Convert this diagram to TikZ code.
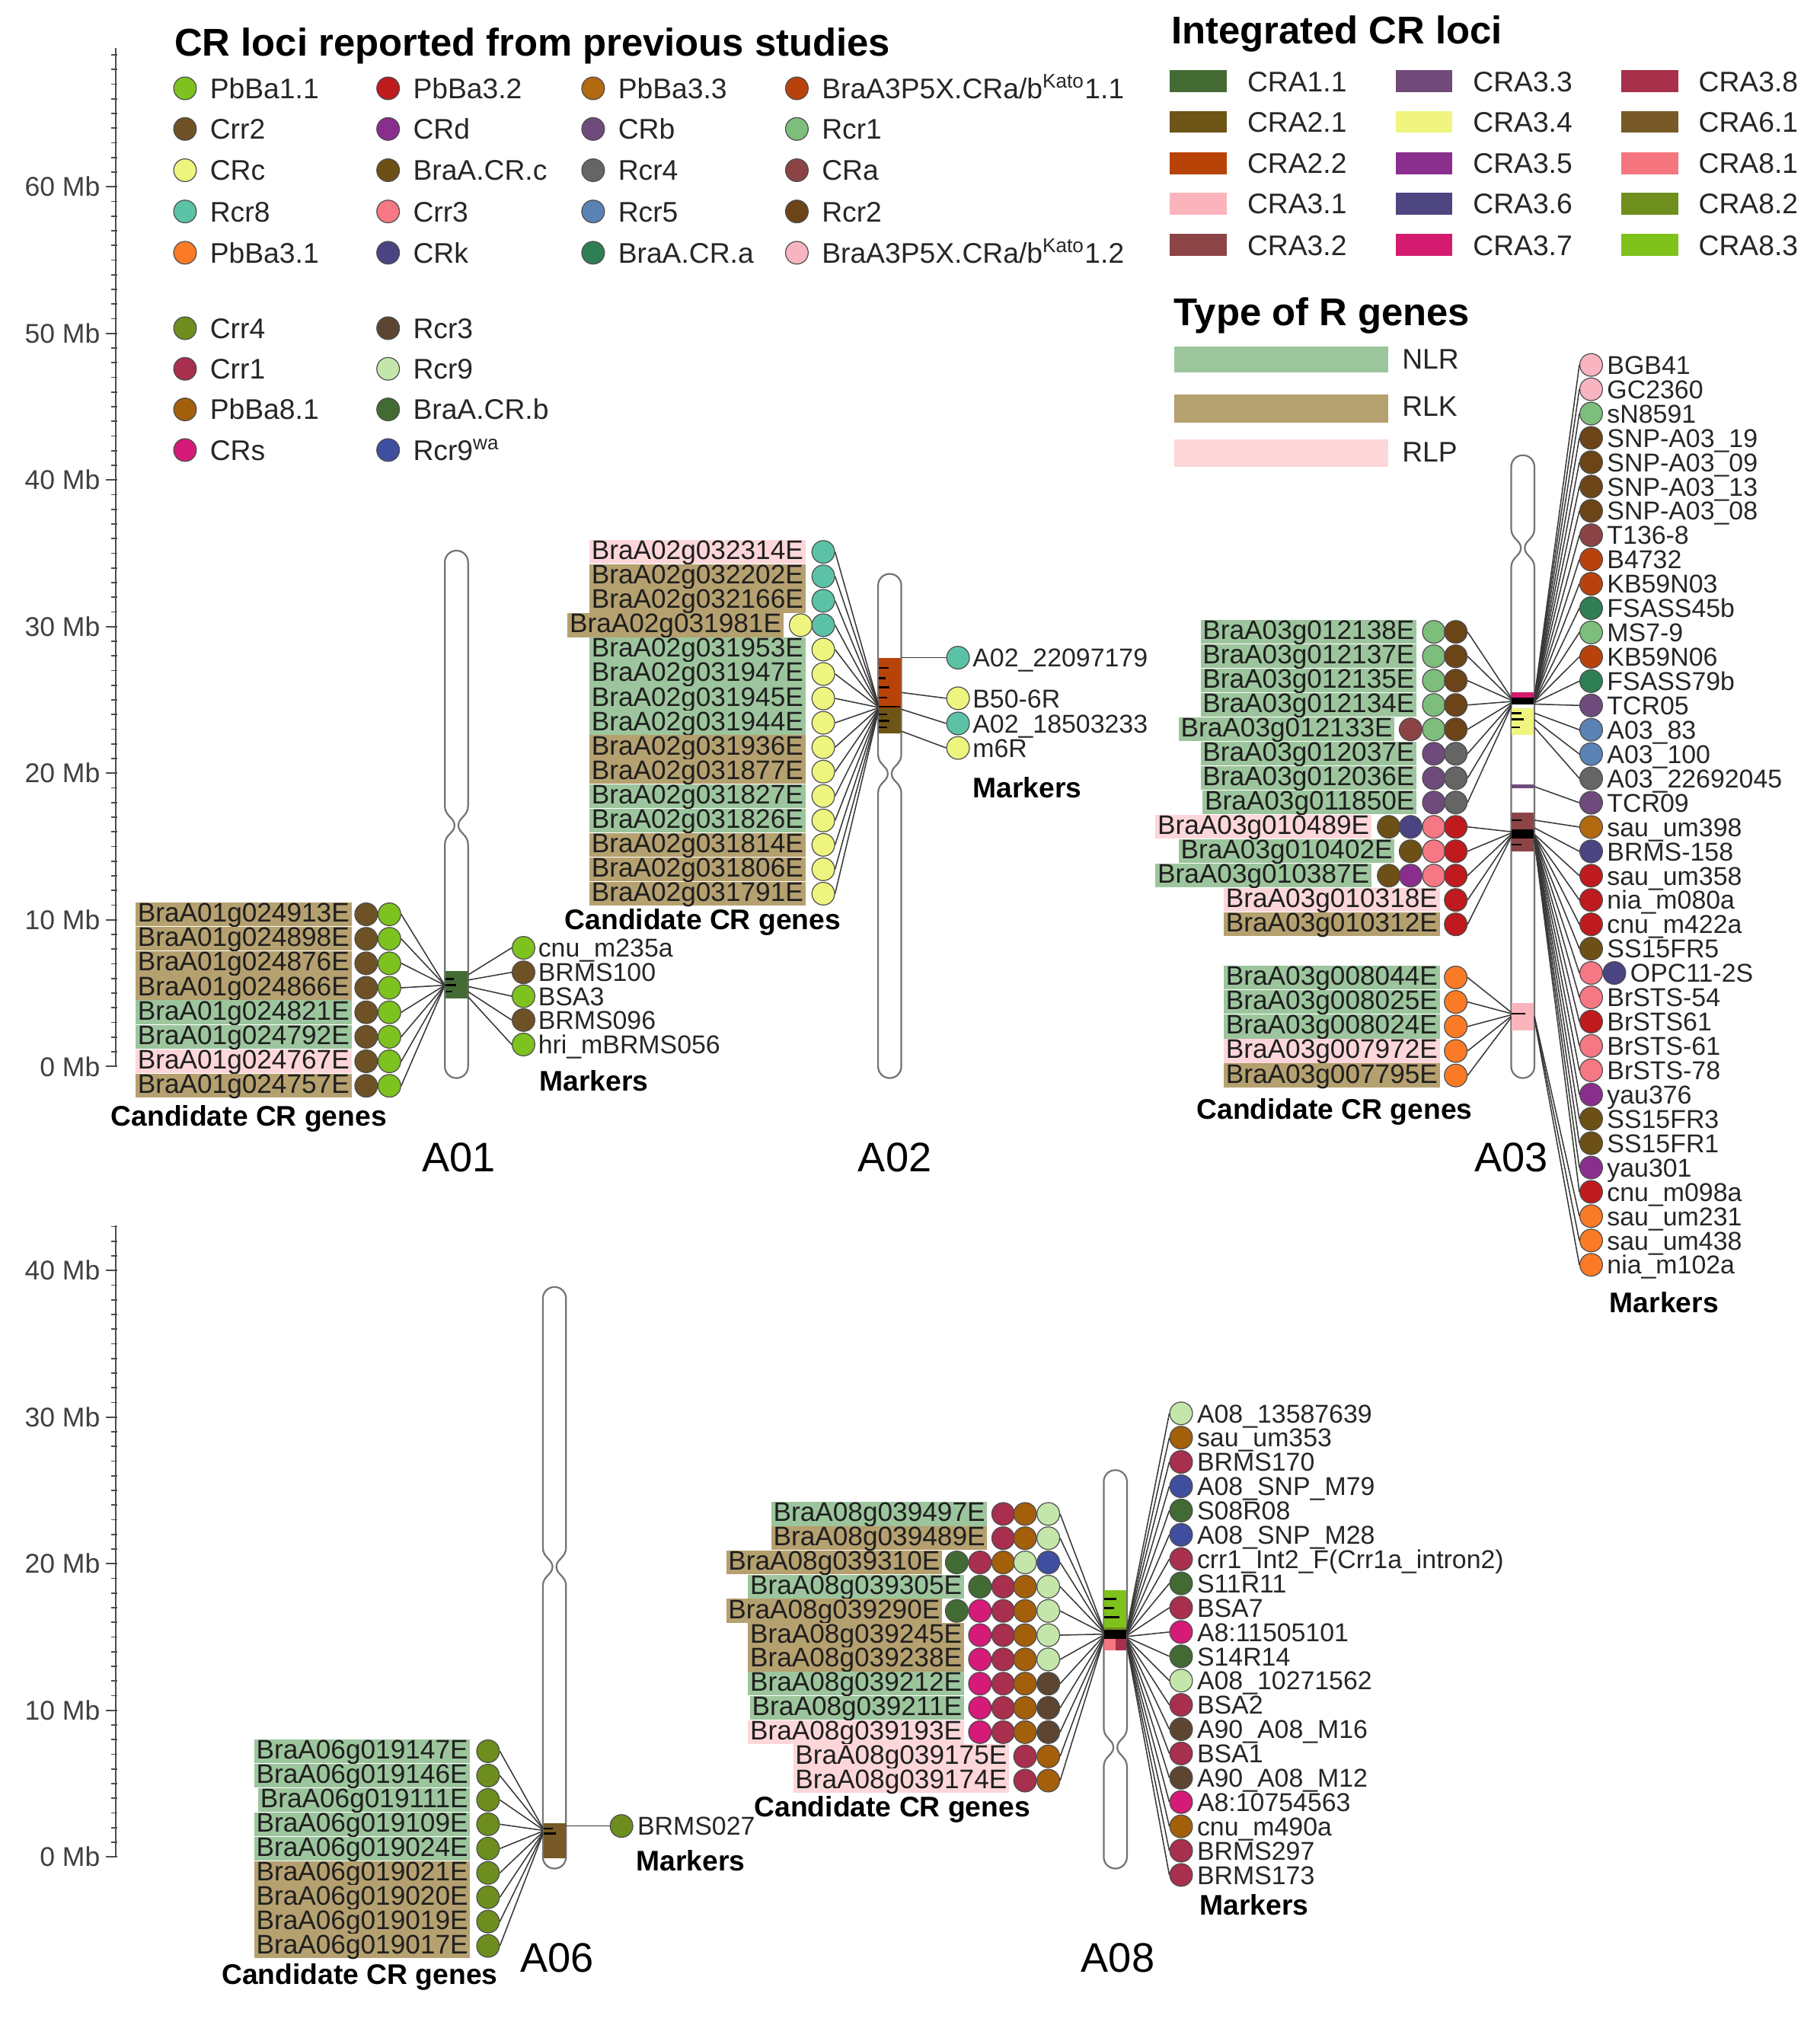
\documentclass[tikz,border=0pt]{standalone}
\usepackage{fontspec}
\setmainfont{Liberation Sans}
\definecolor{pbba11}{HTML}{7DC21E}
\definecolor{crr2}{HTML}{6E5225}
\definecolor{crc}{HTML}{EEF57E}
\definecolor{rcr8}{HTML}{5BC2A6}
\definecolor{pbba31}{HTML}{FA7A25}
\definecolor{pbba32}{HTML}{BF1A1E}
\definecolor{crd}{HTML}{8A2E8E}
\definecolor{bracrc}{HTML}{6D5016}
\definecolor{crr3}{HTML}{F57884}
\definecolor{crk}{HTML}{4B4482}
\definecolor{pbba33}{HTML}{B3690F}
\definecolor{crb}{HTML}{6F4A7C}
\definecolor{rcr4}{HTML}{656565}
\definecolor{rcr5}{HTML}{5B82B5}
\definecolor{bracra}{HTML}{2E7F54}
\definecolor{kato11}{HTML}{B9420C}
\definecolor{rcr1}{HTML}{7DBE7C}
\definecolor{cra}{HTML}{8C4346}
\definecolor{rcr2}{HTML}{6B4418}
\definecolor{kato12}{HTML}{F8B4C0}
\definecolor{crr4}{HTML}{6D8E1F}
\definecolor{crr1}{HTML}{A82F4D}
\definecolor{pbba81}{HTML}{A45F0B}
\definecolor{crs}{HTML}{D51A77}
\definecolor{rcr3}{HTML}{5D4631}
\definecolor{rcr9}{HTML}{C4E6AA}
\definecolor{bracrb}{HTML}{426B34}
\definecolor{rcr9wa}{HTML}{3F4E9F}
\definecolor{ic11}{HTML}{456B35}
\definecolor{ic21}{HTML}{6D5417}
\definecolor{ic22}{HTML}{B84309}
\definecolor{ic31}{HTML}{FBB4BC}
\definecolor{ic32}{HTML}{8C4447}
\definecolor{ic33}{HTML}{714A7A}
\definecolor{ic34}{HTML}{EFF57F}
\definecolor{ic35}{HTML}{8B2F8E}
\definecolor{ic36}{HTML}{4E4680}
\definecolor{ic37}{HTML}{D41B70}
\definecolor{ic38}{HTML}{A8304A}
\definecolor{ic61}{HTML}{775A27}
\definecolor{ic81}{HTML}{F6767F}
\definecolor{ic82}{HTML}{6E8F1E}
\definecolor{ic83}{HTML}{80C21C}
\definecolor{nlr}{HTML}{9DC59D}
\definecolor{rlk}{HTML}{B5A06F}
\definecolor{rlp}{HTML}{FDD6DA}
\newcommand\genefont{\fontsize{10.4}{12}\selectfont}
\newcommand\mkfont{\fontsize{10}{12}\selectfont}
\newcommand\legfont{\fontsize{11}{13}\selectfont}
\newcommand\titfont{\fontsize{15}{18}\selectfont\bfseries}
\newcommand\subfont{\fontsize{11}{13}\selectfont\bfseries}
\newcommand\chrfont{\fontsize{16}{19}\selectfont}
\newcommand\axfont{\fontsize{10.5}{12}\selectfont}
\newcommand\chromosome[4]{%
  \draw[chromo] ({#1-9},{#4-15}) -- ({#1-9},{#2+9}) .. controls ({#1-9},{#2+4}) and ({#1-5},#2) .. (#1,#2)
   .. controls ({#1+5},#2) and ({#1+9},{#2+4}) .. ({#1+9},{#2+9}) -- ({#1+9},{#4-15})
   .. controls ({#1+9},{#4-7}) and ({#1+1.5},{#4-6}) .. ({#1+1.5},#4)
   .. controls ({#1+1.5},{#4+6}) and ({#1+9},{#4+7}) .. ({#1+9},{#4+15}) -- ({#1+9},{#3-9})
   .. controls ({#1+9},{#3-4}) and ({#1+5},#3) .. (#1,#3)
   .. controls ({#1-5},#3) and ({#1-9},{#3-4}) .. ({#1-9},{#3-9}) -- ({#1-9},{#4+15})
   .. controls ({#1-9},{#4+7}) and ({#1-1.5},{#4+6}) .. ({#1-1.5},#4)
   .. controls ({#1-1.5},{#4-6}) and ({#1-9},{#4-7}) .. cycle;}
\newcommand\band[4]{\fill[#4] ({#1-8.6},#2) rectangle ({#1+8.6},#3);}
\newcommand\gtick[3]{\draw[tickl] (#1,#3) -- (#2,#3);}
\tikzset{
  dot/.style={circle,draw=black!70,line width=0.35pt,minimum size=8.8pt,inner sep=0pt},
  gene/.style={font=\genefont,text=black!88,inner xsep=0.8pt,inner ysep=0pt,text height=7.6pt,text depth=1.7pt,anchor=east},
  mk/.style={font=\mkfont,text=black!85,inner sep=0pt,text height=7.2pt,text depth=0pt,anchor=west},
  leg/.style={font=\legfont,text=black!85,inner sep=0pt,text height=7.9pt,text depth=0pt,anchor=west},
  ttl/.style={font=\titfont,inner sep=0pt,text height=10.7pt,text depth=0pt,anchor=west},
  sub/.style={font=\subfont,inner sep=0pt,text height=7.9pt,text depth=0pt},
  chrname/.style={font=\chrfont,inner sep=0pt,text height=11.5pt,text depth=0pt},
  axl/.style={font=\axfont,text=black!75,inner sep=0pt,text height=7.5pt,text depth=0pt,anchor=east},
  axisl/.style={draw=black!70,line width=0.6pt},
  conn/.style={draw=black!78,line width=0.45pt},
  chromo/.style={draw=black!55,line width=0.65pt,fill=white},
  tickl/.style={draw=black,line width=0.8pt},
  swatch/.style={inner sep=0pt,anchor=west,minimum width=22pt,minimum height=8.5pt},
}
\begin{document}
\begin{tikzpicture}[x=0.5pt,y=-0.5pt]
\useasboundingbox (0,0) rectangle (1411,1568);
\fill[white] (0,0) rectangle (1411,1568);

% ---------- axes ----------
\draw[axisl] (90,37) -- (90,827);
\foreach \k in {0,...,69}{\draw[axisl,line width=0.5pt] (86,{827-11.37*\k}) -- (91,{827-11.37*\k});}
\foreach \k/\l in {0/0,1/10,2/20,3/30,4/40,5/50,6/60}{
  \draw[axisl] (82,{827-113.7*\k}) -- (90,{827-113.7*\k});
  \node[axl] (axu\k) at (78,{827-113.7*\k}) {\l{} Mb};}
\draw[axisl] (90,950) -- (90,1440);
\foreach \k in {0,...,43}{\draw[axisl,line width=0.5pt] (86,{1440-11.37*\k}) -- (91,{1440-11.37*\k});}
\foreach \k/\l in {0/0,1/10,2/20,3/30,4/40}{
  \draw[axisl] (82,{1440-113.7*\k}) -- (90,{1440-113.7*\k});
  \node[axl] (axl\k) at (78,{1440-113.7*\k}) {\l{} Mb};}

% ---------- legend 1 ----------
\node[ttl] (t1) at (135,33) {CR loci reported from previous studies};
\foreach \x/\y/\c/\l [count=\i] in {
 143.5/68.5/pbba11/PbBa1.1, 143.5/100/crr2/Crr2, 143.5/132/crc/CRc, 143.5/164/rcr8/Rcr8, 143.5/196/pbba31/PbBa3.1,
 143.5/254.5/crr4/Crr4, 143.5/286/crr1/Crr1, 143.5/317.5/pbba81/PbBa8.1, 143.5/349/crs/CRs,
 301/68.5/pbba32/PbBa3.2, 301/100/crd/CRd, 301/132/bracrc/BraA.CR.c, 301/164/crr3/Crr3, 301/196/crk/CRk,
 301/254.5/rcr3/Rcr3, 301/286/rcr9/Rcr9, 301/317.5/bracrb/BraA.CR.b, 301/349/rcr9wa/{Rcr9\textsuperscript{wa}},
 460/68.5/pbba33/PbBa3.3, 460/100/crb/CRb, 460/132/rcr4/Rcr4, 460/164/rcr5/Rcr5, 460/196/bracra/BraA.CR.a,
 618/68.5/kato11/{BraA3P5X.CRa/b\textsuperscript{Kato}1.1}, 618/100/rcr1/Rcr1, 618/132/cra/CRa, 618/164/rcr2/Rcr2,
 618/196/kato12/{BraA3P5X.CRa/b\textsuperscript{Kato}1.2}}{
  \node[dot,fill=\c] (ld\i) at (\x,\y) {};
  \node[leg] (lt\i) at (\x+19,\y) {\l};}

% ---------- legend 2 ----------
\node[ttl] (t2) at (908,23) {Integrated CR loci};
\foreach \x/\y/\c/\l [count=\i] in {
 907/63/ic11/CRA1.1, 907/94.5/ic21/CRA2.1, 907/126.5/ic22/CRA2.2, 907/158/ic31/CRA3.1, 907/190/ic32/CRA3.2,
 1082/63/ic33/CRA3.3, 1082/94.5/ic34/CRA3.4, 1082/126.5/ic35/CRA3.5, 1082/158/ic36/CRA3.6, 1082/190/ic37/CRA3.7,
 1257/63/ic38/CRA3.8, 1257/94.5/ic61/CRA6.1, 1257/126.5/ic81/CRA8.1, 1257/158/ic82/CRA8.2, 1257/190/ic83/CRA8.3}{
  \node[swatch,fill=\c] (sw\i) at (\x,\y) {};
  \node[leg] (swt\i) at (\x+60,\y) {\l};}

% ---------- legend 3 ----------
\node[ttl] (t3) at (910,242) {Type of R genes};
\node[swatch,fill=nlr,minimum width=83pt,minimum height=10pt] (tyn) at (910,279) {};
\node[swatch,fill=rlk,minimum width=83pt,minimum height=11pt] (tyk) at (910,317) {};
\node[swatch,fill=rlp,minimum width=83pt,minimum height=10.5pt] (typ) at (910,351.5) {};
\node[leg] (tynt) at (1087,278) {NLR};
\node[leg] (tykt) at (1087,315) {RLK};
\node[leg] (typt) at (1087,350) {RLP};

% ---------- chromosomes ----------
\chromosome{354}{427}{836}{640}
\band{354}{753}{774}{ic11}
\gtick{345.5}{352}{759}\gtick{345.5}{354}{764}\gtick{345.5}{351}{769}

\chromosome{690}{445}{836}{600}
\band{690}{510}{549}{ic22}
\band{690}{549}{569}{ic21}
\gtick{681.5}{689}{518}\gtick{681.5}{687}{526}\gtick{681.5}{690}{533}\gtick{681.5}{688}{541}
\gtick{681.5}{698}{548}\gtick{681.5}{688}{554}\gtick{681.5}{690}{559}\gtick{681.5}{688}{564}

\chromosome{1181}{353}{836}{425}
\band{1181}{537}{541}{ic37}
\band{1181}{541}{546}{black}
\band{1181}{549}{570}{ic34}
\gtick{1172.5}{1180}{553}\gtick{1172.5}{1182}{558}\gtick{1172.5}{1179}{564}
\band{1181}{608}{611}{ic33}
\band{1181}{630}{660}{ic32}
\band{1181}{643}{650}{black}
\gtick{1172.5}{1180}{636}\gtick{1172.5}{1180}{655}
\band{1181}{778}{799}{ic31}
\gtick{1172.5}{1183}{786}

\chromosome{430}{998}{1449}{1215}
\band{430}{1414}{1441}{ic61}
\gtick{421.5}{429}{1418}\gtick{421.5}{431}{1422}

\chromosome{865}{1140}{1449}{1355}
\band{865}{1233}{1262}{ic83}
\band{865}{1262}{1268}{ic82}
\band{865}{1264}{1271}{black}
\fill[ic81] (856.4,1271) rectangle (865,1280);
\fill[ic38] (865,1271) rectangle (873.6,1280);
\gtick{856.4}{866}{1240}\gtick{856.4}{864}{1247}\gtick{856.4}{868}{1254}

% ---------- A01 ----------
\coordinate (a01in) at (345,764);
\foreach \t/\g [count=\i] in {rlk/BraA01g024913E, rlk/BraA01g024898E, rlk/BraA01g024876E,
  rlk/BraA01g024866E, nlr/BraA01g024821E, nlr/BraA01g024792E, rlp/BraA01g024767E, rlk/BraA01g024757E}{
  \pgfmathsetmacro\yy{709+(\i-1)*19}
  \node[gene,fill=\t] (a01g\i) at (273,\yy) {\g};
  \node[dot,fill=crr2] (a01a\i) at (284,\yy) {};
  \node[dot,fill=pbba11] (a01b\i) at (302,\yy) {};
  \draw[conn] (a01b\i.east) -- (a01in);}
\foreach \y/\c/\m/\s [count=\i] in {735/pbba11/cnu\_m235a/756, 754/crr2/BRMS100/760, 772.5/pbba11/BSA3/765,
  791/crr2/BRMS096/769, 810/pbba11/hri\_mBRMS056/773}{
  \coordinate (a01o\i) at (363,\s);
  \node[dot,fill=\c] (a01m\i) at (406,\y) {};
  \node[mk] (a01t\i) at (417,\y) {\m};
  \draw[conn] (a01o\i) -- (a01m\i.west);}
\node[sub,anchor=west] (a01mk) at (418,838) {Markers};
\node[sub] (a01cg) at (193,865) {Candidate CR genes};
\node[chrname] (a01n) at (356,897) {A01};

% ---------- A02 ----------
\node[dot,fill=crc] (a02x4) at (621,484.8) {};
\foreach \t/\g/\xr/\c [count=\i] in {rlp/BraA02g032314E/625/rcr8, rlk/BraA02g032202E/625/rcr8,
  rlk/BraA02g032166E/625/rcr8, rlk/BraA02g031981E/608/rcr8, nlr/BraA02g031953E/625/crc,
  nlr/BraA02g031947E/625/crc, nlr/BraA02g031945E/625/crc, nlr/BraA02g031944E/625/crc,
  rlk/BraA02g031936E/625/crc, rlk/BraA02g031877E/625/crc, nlr/BraA02g031827E/625/crc,
  nlr/BraA02g031826E/625/crc, rlk/BraA02g031814E/625/crc, rlk/BraA02g031806E/625/crc,
  rlk/BraA02g031791E/625/crc}{
  \pgfmathsetmacro\yy{428+(\i-1)*18.93}
  \node[gene,fill=\t] (a02g\i) at (\xr,\yy) {\g};
  \node[dot,fill=\c] (a02d\i) at (638.5,\yy) {};
  \coordinate (a02e\i) at (681,{545+0.5*\i});
  \draw[conn] (a02d\i.east) -- (a02e\i);}
\foreach \y/\c/\m/\s [count=\i] in {510/rcr8/A02\_22097179/510, 541.5/crc/B50-6R/537, 561/rcr8/A02\_18503233/550, 580/crc/m6R/567}{
  \coordinate (a02o\i) at (699,\s);
  \node[dot,fill=\c] (a02m\i) at (743,\y) {};
  \node[mk] (a02t\i) at (754,\y) {\m};
  \draw[conn] (a02o\i) -- (a02m\i.west);}
\node[sub,anchor=west] (a02mk) at (754,611) {Markers};
\node[sub] (a02cg) at (545,713) {Candidate CR genes};
\node[chrname] (a02n) at (694,897) {A02};

% ---------- A03 ----------
\foreach \x/\r/\c [count=\k] in {1112/1/rcr1, 1112/2/rcr1, 1112/3/rcr1, 1112/4/rcr1,
  1094/5/cra, 1112/5/rcr1, 1112/6/crb, 1112/7/crb, 1112/8/crb,
  1077/9/bracrc, 1094/9/crk, 1112/9/crr3, 1094/10/bracrc, 1112/10/crr3,
  1077/11/bracrc, 1094/11/crd, 1112/11/crr3}{
  \node[dot,fill=\c] (a03x\k) at (\x,{490+(\r-1)*18.9}) {};}
\foreach \t/\g/\xr/\c/\e [count=\i] in {
  nlr/BraA03g012138E/1099/rcr2/541, nlr/BraA03g012137E/1099/rcr2/542,
  nlr/BraA03g012135E/1099/rcr2/543, nlr/BraA03g012134E/1099/rcr2/544,
  nlr/BraA03g012133E/1082/rcr2/545, nlr/BraA03g012037E/1099/rcr4/546,
  nlr/BraA03g012036E/1099/rcr4/547, nlr/BraA03g011850E/1099/rcr4/548,
  rlp/BraA03g010489E/1064/pbba32/645, nlr/BraA03g010402E/1082/pbba32/646,
  nlr/BraA03g010387E/1064/pbba32/647, rlp/BraA03g010318E/1117/pbba32/648,
  rlk/BraA03g010312E/1117/pbba32/649}{
  \pgfmathsetmacro\yy{490+(\i-1)*18.9}
  \node[gene,fill=\t] (a03g\i) at (\xr,\yy) {\g};
  \node[dot,fill=\c] (a03d\i) at (1129,\yy) {};
  \coordinate (a03e\i) at (1172,\e);
  \draw[conn] (a03d\i.east) -- (a03e\i);}
\foreach \t/\g/\e [count=\i] in {nlr/BraA03g008044E/785, nlr/BraA03g008025E/786, nlr/BraA03g008024E/787,
  rlp/BraA03g007972E/788, rlk/BraA03g007795E/789}{
  \pgfmathsetmacro\yy{758+(\i-1)*19}
  \node[gene,fill=\t] (a03h\i) at (1117,\yy) {\g};
  \node[dot,fill=pbba31] (a03f\i) at (1129,\yy) {};
  \coordinate (a03k\i) at (1172,\e);
  \draw[conn] (a03f\i.east) -- (a03k\i);}
\foreach \c/\m/\s/\lx [count=\i] in {kato12/BGB41/541/1246, kato12/GC2360/541/1246, rcr1/sN8591/541/1246,
  rcr2/SNP-A03\_19/542/1246, rcr2/SNP-A03\_09/542/1246, rcr2/SNP-A03\_13/542/1246, rcr2/SNP-A03\_08/542/1246,
  cra/T136-8/543/1246, kato11/B4732/543/1246, kato11/KB59N03/543/1246, bracra/FSASS45b/544/1246,
  rcr1/MS7-9/544/1246, kato11/KB59N06/544/1246, bracra/FSASS79b/545/1246, crb/TCR05/546/1246,
  rcr5/A03\_83/553/1246, rcr5/A03\_100/558/1246, rcr4/A03\_22692045/564/1246, crb/TCR09/610/1246,
  pbba33/sau\_um398/636/1246, crk/BRMS-158/642/1246, pbba32/sau\_um358/647/1246, pbba32/nia\_m080a/648/1246,
  pbba32/cnu\_m422a/648/1246, bracrc/SS15FR5/649/1246, crr3/OPC11-2S/649/1264, crr3/BrSTS-54/650/1246,
  pbba32/BrSTS61/650/1246, crr3/BrSTS-61/650/1246, crr3/BrSTS-78/651/1246, crd/yau376/651/1246,
  bracrc/SS15FR3/651/1246, bracrc/SS15FR1/652/1246, crd/yau301/652/1246, pbba32/cnu\_m098a/652/1246,
  pbba31/sau\_um231/788/1246, pbba31/sau\_um438/789/1246, pbba31/nia\_m102a/790/1246}{
  \pgfmathsetmacro\yy{283+(\i-1)*18.86}
  \coordinate (a03s\i) at (1190,\s);
  \node[dot,fill=\c] (a03m\i) at (1234,\yy) {};
  \node[mk] (a03t\i) at (\lx,\yy) {\m};
  \draw[conn] (a03s\i) -- (a03m\i.west);}
\node[dot,fill=crk] (a03m26b) at (1252,754.5) {};
\node[sub,anchor=west] (a03mk) at (1248,1010) {Markers};
\node[sub] (a03cg) at (1035,860) {Candidate CR genes};
\node[chrname] (a03n) at (1172,897) {A03};

% ---------- A06 ----------
\foreach \t/\g [count=\i] in {nlr/BraA06g019147E, nlr/BraA06g019146E, nlr/BraA06g019111E,
  nlr/BraA06g019109E, nlr/BraA06g019024E, rlk/BraA06g019021E, rlk/BraA06g019020E,
  rlk/BraA06g019019E, rlk/BraA06g019017E}{
  \pgfmathsetmacro\yy{1358+(\i-1)*18.875}
  \node[gene,fill=\t] (a06g\i) at (365,\yy) {\g};
  \node[dot,fill=crr4] (a06d\i) at (378.5,\yy) {};
  \coordinate (a06e\i) at (421,{1417+0.6*\i});
  \draw[conn] (a06d\i.east) -- (a06e\i);}
\coordinate (a06o1) at (439,1416);
\node[dot,fill=crr4] (a06m1) at (482,1416) {};
\node[mk] (a06t1) at (494,1416) {BRMS027};
\draw[conn] (a06o1) -- (a06m1.west);
\node[sub,anchor=west] (a06mk) at (493,1443) {Markers};
\node[sub] (a06cg) at (279,1531) {Candidate CR genes};
\node[chrname] (a06n) at (432,1518) {A06};

% ---------- A08 ----------
\foreach \x/\y/\c [count=\k] in {778/1174/crr1, 795/1174/pbba81, 778/1192.8/crr1, 795/1192.8/pbba81,
  742/1211.6/bracrb, 760/1211.6/crr1, 778/1211.6/pbba81, 795/1211.6/rcr9,
  760/1230.4/bracrb, 778/1230.4/crr1, 795/1230.4/pbba81,
  742/1249.2/bracrb, 760/1249.2/crs, 778/1249.2/crr1, 795/1249.2/pbba81,
  760/1268/crs, 778/1268/crr1, 795/1268/pbba81, 760/1286.8/crs, 778/1286.8/crr1, 795/1286.8/pbba81,
  760/1305.6/crs, 778/1305.6/crr1, 795/1305.6/pbba81, 760/1324.4/crs, 778/1324.4/crr1, 795/1324.4/pbba81,
  760/1343.2/crs, 778/1343.2/crr1, 795/1343.2/pbba81, 795/1362/crr1, 795/1380.8/crr1}{
  \node[dot,fill=\c] (a08x\k) at (\x,\y) {};}
\foreach \t/\g/\xr/\c [count=\i] in {nlr/BraA08g039497E/766/rcr9, rlk/BraA08g039489E/766/rcr9,
  rlk/BraA08g039310E/731/rcr9wa, nlr/BraA08g039305E/748/rcr9, rlk/BraA08g039290E/731/rcr9,
  rlk/BraA08g039245E/748/rcr9, rlk/BraA08g039238E/748/rcr9, nlr/BraA08g039212E/748/rcr3,
  nlr/BraA08g039211E/748/rcr3, rlp/BraA08g039193E/748/rcr3, rlp/BraA08g039175E/783/pbba81,
  rlp/BraA08g039174E/783/pbba81}{
  \pgfmathsetmacro\yy{1174+(\i-1)*18.8}
  \node[gene,fill=\t] (a08g\i) at (\xr,\yy) {\g};
  \node[dot,fill=\c] (a08d\i) at (813,\yy) {};
  \coordinate (a08e\i) at (856,{1263+0.7*\i});
  \draw[conn] (a08d\i.east) -- (a08e\i);}
\foreach \c/\m [count=\i] in {rcr9/A08\_13587639, pbba81/sau\_um353, crr1/BRMS170, rcr9wa/A08\_SNP\_M79,
  bracrb/S08R08, rcr9wa/A08\_SNP\_M28, crr1/{crr1\_Int2\_F(Crr1a\_intron2)}, bracrb/S11R11, crr1/BSA7,
  crs/A8:11505101, bracrb/S14R14, rcr9/A08\_10271562, crr1/BSA2, rcr3/A90\_A08\_M16, crr1/BSA1,
  rcr3/A90\_A08\_M12, crs/A8:10754563, pbba81/cnu\_m490a, crr1/BRMS297, crr1/BRMS173}{
  \pgfmathsetmacro\yy{1096+(\i-1)*18.84}
  \coordinate (a08s\i) at (874,{1262+0.7*\i});
  \node[dot,fill=\c] (a08m\i) at (916,\yy) {};
  \node[mk] (a08t\i) at (928,\yy) {\m};
  \draw[conn] (a08s\i) -- (a08m\i.west);}
\node[sub,anchor=west] (a08mk) at (930,1477) {Markers};
\node[sub] (a08cg) at (692,1401) {Candidate CR genes};
\node[chrname] (a08n) at (867,1518) {A08};
\end{tikzpicture}
\end{document}
